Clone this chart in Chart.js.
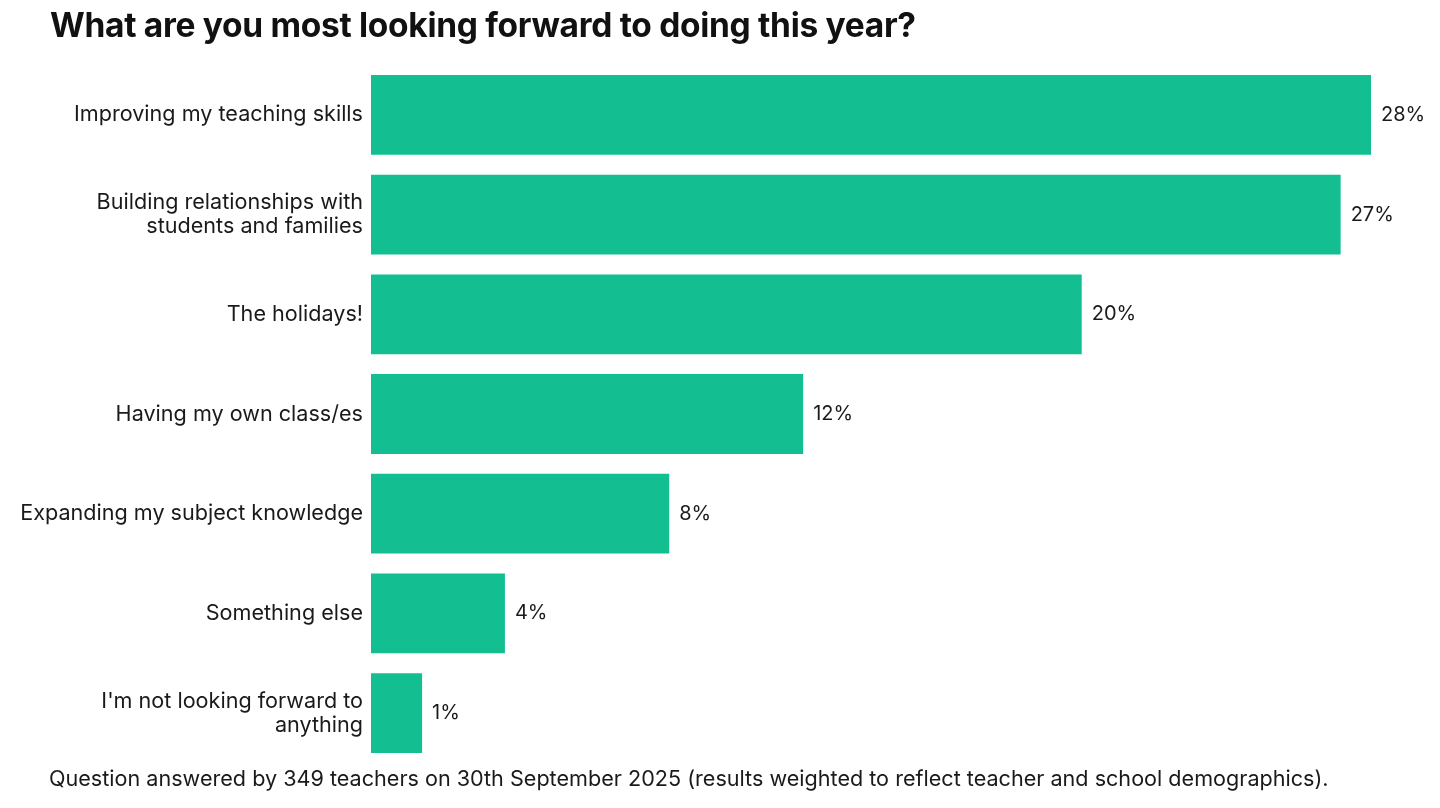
<!DOCTYPE html>
<html>
<head>
<meta charset="utf-8">
<script src="https://cdn.jsdelivr.net/npm/chart.js@4"></script>
<style>
  body { margin: 0; background: #fff; }
  #wrap { position: relative; width: 1440px; height: 808px; font-family: Inter, "Noto Sans", sans-serif; color: #111; }
  #title { position: absolute; left: 50px; top: 5px; margin: 0; font-size: 33.5px; font-weight: 700; letter-spacing: -0.3px; }
  #note { position: absolute; left: 49px; top: 765px; font-size: 21.6px; color: #1a1a1a; }
  canvas { position: absolute; left: 0; top: 0; }
</style>
</head>
<body>
<div id="wrap">
  <canvas id="answersChart" width="1440" height="808"></canvas>
  <h1 id="title">What are you most looking forward to doing this year?</h1>
  <div id="note">Question answered by 349 teachers on 30th September 2025 (results weighted to reflect teacher and school demographics).</div>
</div>
<script>
const answers = [
  'Improving my teaching skills',
  ['Building relationships with', 'students and families'],
  'The holidays!',
  'Having my own class/es',
  'Expanding my subject knowledge',
  'Something else',
  ["I'm not looking forward to", 'anything']
];
// share of teachers, % (bar lengths)
const shares = [28.0, 27.15, 19.9, 12.1, 8.35, 3.75, 1.43];

const barColour = '#13bf91';

// puts the rounded % just past the end of each bar
const valueLabels = {
  id: 'valueLabels',
  afterDatasetsDraw(chart) {
    const ctx = chart.ctx;
    const meta = chart.getDatasetMeta(0);
    ctx.save();
    ctx.font = '20px Inter, "Noto Sans", sans-serif';
    ctx.fillStyle = '#1a1a1a';
    ctx.textBaseline = 'middle';
    meta.data.forEach((bar, i) => {
      ctx.fillText(Math.round(shares[i]) + '%', bar.x + 10, bar.y);
    });
    ctx.restore();
  }
};

new Chart(document.getElementById('answersChart'), {
  type: 'bar',
  data: {
    labels: answers,
    datasets: [{
      data: shares,
      backgroundColor: barColour,
      borderWidth: 0,
      barPercentage: 0.8,
      categoryPercentage: 1
    }]
  },
  options: {
    indexAxis: 'y',
    responsive: false,
    animation: false,
    devicePixelRatio: 1,
    layout: { padding: { top: 65, bottom: 45, left: 0, right: 19 } },
    plugins: {
      legend: { display: false },
      tooltip: { enabled: false }
    },
    scales: {
      x: { display: false, min: 0, max: 29.4 },
      y: {
        grid: { display: false },
        border: { display: false },
        ticks: {
          color: '#1a1a1a',
          padding: 0,
          font: { family: 'Inter, "Noto Sans", sans-serif', size: 21.6, lineHeight: 1.12 }
        },
        afterFit(scale) { scale.width = 371; }
      }
    }
  },
  plugins: [valueLabels]
});
</script>
</body>
</html>
